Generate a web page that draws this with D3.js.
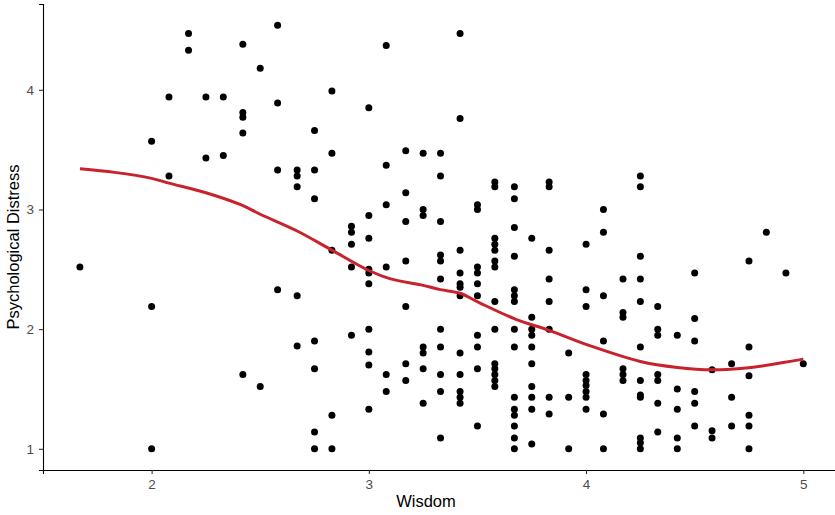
<html>
 <head>
 <meta charset="utf-8">
 <title>Wisdom vs Psychological Distress</title>
<style>
 body{ margin:0; background:#fff; }
 text{ font-family:'Liberation Sans', Arial, Helvetica, sans-serif; }
</style>
<script src="https://cdn.jsdelivr.net/npm/d3@7"></script>
 </head>
 <body>
   <div id="plot"></div>
<script>
  // wisdom score levels (x) and the distress scores seen at each level
  var wisdomLevels = [1.67, 2.00, 2.08, 2.17, 2.25, 2.33, 2.42, 2.50, 2.58, 2.67, 2.75, 2.83,
                      2.92, 3.00, 3.08, 3.17, 3.25, 3.33, 3.42, 3.50, 3.58, 3.67, 3.75, 3.83,
                      3.92, 4.00, 4.08, 4.17, 4.25, 4.33, 4.42, 4.50, 4.58, 4.67, 4.75, 4.83,
                      4.92, 5.00];
  var distressAtLevel = [
    [2.52],
    [3.57, 2.19, 1.00],
    [3.94, 3.28],
    [4.47, 4.33],
    [3.94, 3.43],
    [3.94, 3.45],
    [4.38, 3.81, 3.77, 3.64, 1.62],
    [4.18, 1.52],
    [4.54, 3.89, 3.33, 2.33],
    [3.33, 3.28, 3.19, 2.28, 1.86],
    [3.66, 3.33, 3.09, 1.90, 1.67, 1.14, 1.00],
    [3.99, 3.47, 2.66, 1.28, 1.00],
    [2.86, 2.81, 2.71, 2.52, 1.95],
    [3.85, 2.95, 2.76, 2.50, 2.47, 2.38, 2.00, 1.81, 1.70, 1.33],
    [4.37, 3.37, 3.04, 2.52, 1.62, 1.48],
    [3.49, 3.14, 2.90, 2.57, 2.19, 1.71, 1.57],
    [3.47, 3.00, 2.95, 1.85, 1.80, 1.67, 1.38],
    [3.47, 3.28, 2.90, 2.62, 2.57, 2.42, 2.00, 1.85, 1.62, 1.48, 1.09],
    [4.47, 3.76, 2.66, 2.47, 2.38, 2.35, 2.28, 1.80, 1.62, 1.48, 1.43, 1.38],
    [3.04, 3.00, 2.52, 2.47, 2.38, 2.28, 1.95, 1.85, 1.67, 1.19],
    [3.23, 3.19, 2.76, 2.71, 2.66, 2.57, 2.52, 2.23, 2.00, 1.71, 1.67, 1.62, 1.57, 1.52],
    [3.19, 3.09, 2.85, 2.61, 2.33, 2.28, 2.23, 2.00, 1.85, 1.43, 1.33, 1.28, 1.19, 1.09, 1.00],
    [2.76, 2.10, 2.00, 1.95, 1.85, 1.71, 1.52, 1.43, 1.33, 1.04],
    [3.23, 3.19, 2.66, 2.42, 2.23, 2.00, 1.43, 1.29],
    [1.80, 1.43, 1.00],
    [2.71, 2.33, 2.19, 1.62, 1.57, 1.53, 1.48, 1.43, 1.33],
    [3.00, 2.81, 2.28, 1.90, 1.29, 1.00],
    [2.42, 2.14, 2.10, 1.67, 1.62, 1.57],
    [3.28, 3.19, 2.61, 2.42, 2.23, 1.85, 1.57, 1.45, 1.43, 1.09, 1.05, 1.00],
    [2.19, 2.00, 1.95, 1.62, 1.57, 1.38, 1.14],
    [1.95, 1.50, 1.33, 1.09, 1.00],
    [2.47, 2.09, 1.90, 1.48, 1.38, 1.19],
    [1.66, 1.15, 1.09],
    [1.71, 1.43, 1.19],
    [2.57, 1.85, 1.61, 1.28, 1.19, 1.00],
    [2.81],
    [2.47],
    [1.71]
  ];

  // smoothed (loess) curve
  var smoothX = [1.67, 1.83, 2.00, 2.08, 2.25, 2.41, 2.50, 2.67, 2.83, 3.00, 3.10, 3.24,
                 3.33, 3.42, 3.51, 3.68, 3.83, 4.02, 4.25, 4.42, 4.58, 4.76, 5.00];
  var smoothY = [3.34, 3.31, 3.26, 3.22, 3.14, 3.04, 2.96, 2.82, 2.66, 2.49, 2.42, 2.37,
                 2.33, 2.30, 2.22, 2.08, 1.99, 1.86, 1.73, 1.68, 1.66, 1.68, 1.75];

  var xTicks = [2, 3, 4, 5];
  var yTicks = [1, 2, 3, 4];

  var w = 835,
      h = 515;

  var points = [];
  wisdomLevels.forEach(function(wv, i) {
    distressAtLevel[i].forEach(function(dv) { points.push([wv, dv]); });
  });
  var smooth = smoothX.map(function(d, i) { return [d, smoothY[i]]; });

  var x = d3.scaleLinear().domain([1.5, 5.1667]).range([43, 839.5]);
  var y = d3.scaleLinear().domain([0.823, 4.717]).range([470, 4]);

  var vis = d3.select("#plot").append("svg")
      .attr("width", w)
      .attr("height", h);

  // points
  vis.append("g").selectAll("circle")
      .data(points)
      .enter()
      .append("circle")
      .attr("cx", function(d) { return x(d[0]); })
      .attr("cy", function(d) { return y(d[1]); })
      .attr("r", 3.5)
      .attr("fill", "#000");

  // smooth line
  vis.append("path")
      .datum(smooth)
      .attr("fill", "none")
      .attr("stroke", "#c8232c")
      .attr("stroke-width", 3)
      .attr("d", d3.line()
        .x(function(d) { return x(d[0]); })
        .y(function(d) { return y(d[1]); })
        .curve(d3.curveCatmullRom.alpha(0.5)));

  // axes
  var xAxis = vis.append("g")
      .attr("transform", "translate(0," + y.range()[0] + ")")
      .call(d3.axisBottom(x).tickValues(xTicks).tickSize(4).tickPadding(5).tickFormat(d3.format("d")));
  var yAxis = vis.append("g")
      .attr("transform", "translate(" + x.range()[0] + ",0)")
      .call(d3.axisLeft(y).tickValues(yTicks).tickSize(4).tickPadding(5).tickFormat(d3.format("d")));

  [xAxis, yAxis].forEach(function(a) {
    a.select(".domain").attr("stroke", "#000").attr("stroke-width", 1.1);
    a.selectAll(".tick line").attr("stroke", "#333").attr("stroke-width", 1.1);
    a.selectAll(".tick text")
      .attr("fill", "#4d4d4d")
      .style("font-size", "13.5px")
      .style("font-family", "'Liberation Sans', Arial, sans-serif");
  });

  vis.append("text")
      .attr("x", 426)
      .attr("y", 507)
      .attr("text-anchor", "middle")
      .style("font-size", "16.5px")
      .text("Wisdom");

  vis.append("text")
      .attr("transform", "translate(19,247) rotate(-90)")
      .attr("text-anchor", "middle")
      .style("font-size", "16.5px")
      .text("Psychological Distress");
</script>
 </body>
</html>
